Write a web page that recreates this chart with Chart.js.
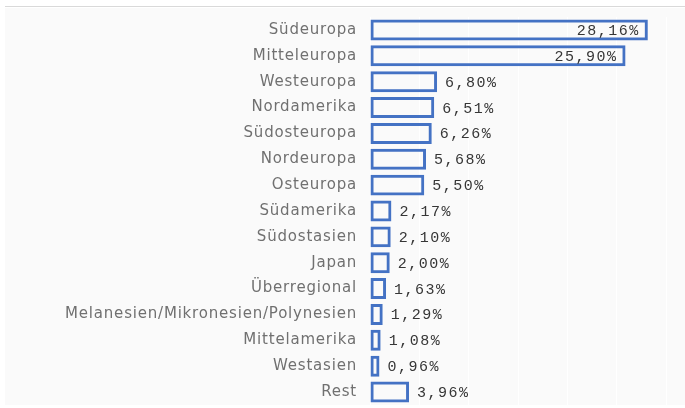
<!DOCTYPE html>
<html>
<head>
<meta charset="utf-8">
<script src="https://cdn.jsdelivr.net/npm/chart.js@4"></script>
<style>
  html, body { margin: 0; padding: 0; background: #fff; }
  #wrap { position: relative; width: 685px; height: 408px; overflow: hidden; }
  #topline { position: absolute; left: 5px; top: 6px; width: 680px; height: 1px; background: #d9d9d9; }
  #panel { position: absolute; left: 5px; top: 8px; width: 680px; height: 397px; background: #fafafa; }
  canvas { position: absolute; left: 0; top: 0; }
</style>
</head>
<body>
<div id="wrap">
  <div id="topline"></div>
  <div id="panel"></div>
  <canvas id="regionChart" width="685" height="408"></canvas>
</div>
<script>
// Anteile nach Region (in %)
const regions = [
    'Südeuropa', 'Mitteleuropa', 'Westeuropa', 'Nordamerika', 'Südosteuropa',
    'Nordeuropa', 'Osteuropa', 'Südamerika', 'Südostasien', 'Japan',
    'Überregional', 'Melanesien/Mikronesien/Polynesien', 'Mittelamerika',
    'Westasien', 'Rest'
];
const shares = [28.16, 25.90, 6.80, 6.51, 6.26, 5.68, 5.50, 2.17, 2.10, 2.00, 1.63, 1.29, 1.08, 0.96, 3.96];
const xMax = 30;
const xStep = 5;

const fmt = v => v.toFixed(2).replace('.', ',') + '%';

// the category labels in the original are set a bit wider
const wideText = {
    id: 'wideText',
    beforeDraw(chart) { chart.ctx.letterSpacing = '0.8px'; }
};

// value labels: inside for the long bars, right of the bar otherwise
const valueLabels = {
    id: 'valueLabels',
    afterDatasetsDraw(chart) {
        const ctx = chart.ctx;
        const meta = chart.getDatasetMeta(0);
        ctx.save();
        ctx.letterSpacing = '1.5px';
        ctx.font = '15px "Liberation Mono", monospace';
        ctx.fillStyle = '#363636';
        ctx.textBaseline = 'middle';
        meta.data.forEach((bar, i) => {
            const v = shares[i];
            if (v > 20) {
                ctx.textAlign = 'right';
                ctx.fillText(fmt(v), bar.x - 8, bar.y + 1);
            } else {
                ctx.textAlign = 'left';
                ctx.fillText(fmt(v), bar.x + 8, bar.y + 1);
            }
        });
        ctx.restore();
    }
};

new Chart(document.getElementById('regionChart'), {
    type: 'bar',
    data: {
        labels: regions,
        datasets: [{
            data: shares,
            backgroundColor: 'rgba(0,0,0,0)',
            borderColor: '#4472c4',
            borderWidth: 3,
            borderSkipped: false,
            categoryPercentage: 1,
            barPercentage: 0.81
        }]
    },
    options: {
        indexAxis: 'y',
        responsive: false,
        animation: false,
        layout: { padding: { top: 17, bottom: 3, right: 19, left: 0 } },
        plugins: { legend: { display: false }, tooltip: { enabled: false } },
        scales: {
            x: {
                min: 0,
                max: xMax,
                ticks: { display: false, stepSize: xStep },
                grid: { color: '#ffffff', lineWidth: 1, drawTicks: false },
                border: { display: false },
                afterFit: s => { s.height = 0; }
            },
            y: {
                ticks: {
                    color: '#707070',
                    padding: 13,
                    font: { family: 'DejaVu Sans', size: 15 }
                },
                grid: { display: false, drawTicks: false },
                border: { display: false },
                afterFit: s => {
                    s.width = 370;
                    s.paddingTop = 0;
                    s.paddingBottom = 0;
                }
            }
        }
    },
    plugins: [wideText, valueLabels]
});
</script>
</body>
</html>
